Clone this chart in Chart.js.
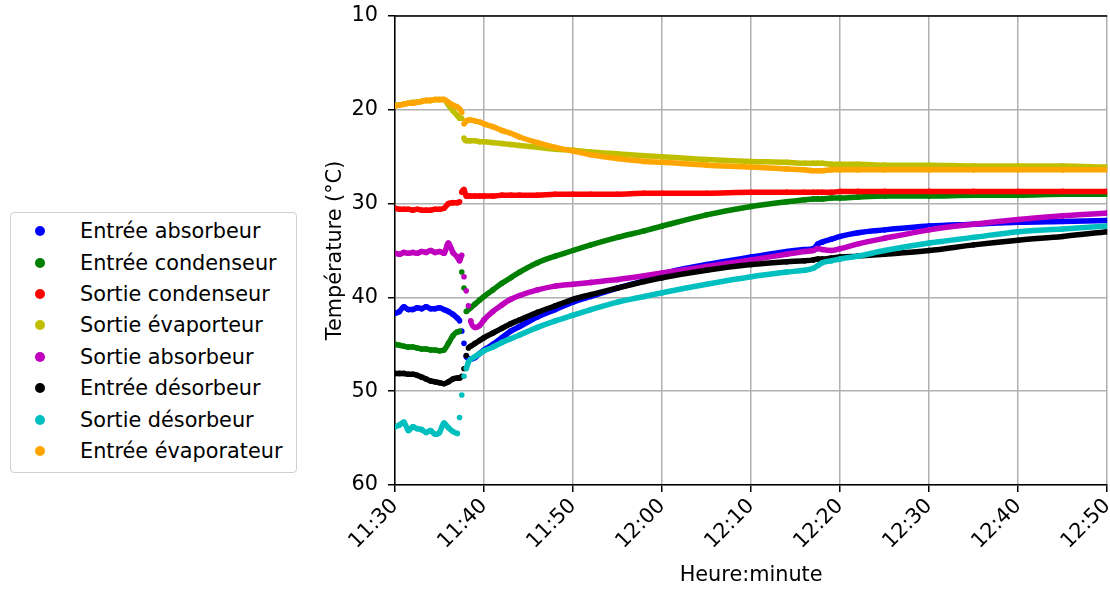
<!DOCTYPE html>
<html>
<head>
<meta charset="utf-8">
<title>Températures</title>
<script src="https://cdn.jsdelivr.net/npm/chart.js@4.4.1/dist/chart.umd.min.js"></script>
<style>
    body { margin: 0; background: #fff; font-family: "DejaVu Sans", sans-serif; }
    #wrap { position: relative; width: 1110px; height: 590px; }
    #legend { position: absolute; left: 10px; top: 212px; width: 287px; height: 261px; border: 1px solid #d0d0d0; border-radius: 4px; box-sizing: border-box; padding-top: 2.5px; background: #fff; }
    .item { display: flex; align-items: center; height: 31.4px; font-size: 20.8px; color: #000; white-space: nowrap; }
    .dot { width: 10px; height: 10px; border-radius: 50%; margin-left: 24px; margin-right: 35px; flex: none; }
</style>
</head>
<body>
<div id="wrap">
    <canvas id="chart" width="1110" height="590"></canvas>
    <div id="legend"></div>
</div>
<script>
    // minutes since 11:30
    const minutes = [0, 0.5, 1, 1.5, 2, 2.5, 3, 3.5, 4, 4.5, 5, 5.5, 6, 6.5, 7, 7.25, 7.5, 7.75, 8, 8.25, 8.5, 9, 9.5, 10,
        11, 12, 13, 14, 16, 18, 20, 22, 25, 28, 30, 35, 40, 44, 46, 47, 47.5, 48, 49, 50, 52, 55, 60, 65, 70, 75, 80];
    const tickLabels = ["11:30", "11:40", "11:50", "12:00", "12:10", "12:20", "12:30", "12:40", "12:50"];

    const entreeAbsorbeur = [41.7, 41.5, 41.0, 41.3, 41.3, 41.1, 41.2, 41.0, 41.2, 41.2, 41.1, 41.3, 41.5, 41.8, 42.2, 42.5, 43.6, 44.9, 46.3, 46.5, 46.6, 46.4, 46.0, 45.6,
        45.0, 44.3, 43.6, 43.1, 42.1, 41.3, 40.5, 39.9, 39.0, 38.2, 37.5, 36.5, 35.7, 35.1, 34.9, 34.8, 34.3, 34.1, 33.8, 33.5, 33.1, 32.8, 32.4, 32.2, 32.0, 31.9, 31.8];
    const entreeCondenseur = [45.0, 45.1, 45.2, 45.3, 45.3, 45.4, 45.5, 45.5, 45.6, 45.6, 45.7, 45.6, 44.9, 44.1, 43.7, 43.6, 37.3, 39.0, 41.5, 41.3, 41.1, 40.7, 40.3, 39.9,
        39.2, 38.5, 37.9, 37.3, 36.3, 35.6, 35.0, 34.4, 33.6, 32.9, 32.4, 31.2, 30.3, 29.8, 29.6, 29.5, 29.5, 29.5, 29.4, 29.4, 29.3, 29.2, 29.2, 29.1, 29.1, 29.0, 29.0];
    const sortieCondenseur = [30.5, 30.6, 30.6, 30.6, 30.7, 30.6, 30.7, 30.7, 30.7, 30.6, 30.6, 30.5, 30.0, 29.9, 29.9, 29.8, 28.8, 28.5, 29.2, 29.2, 29.2, 29.2, 29.2, 29.2,
        29.2, 29.1, 29.1, 29.1, 29.1, 29.0, 29.0, 29.0, 29.0, 28.9, 28.9, 28.9, 28.8, 28.8, 28.8, 28.8, 28.8, 28.8, 28.8, 28.7, 28.7, 28.7, 28.7, 28.7, 28.7, 28.7, 28.7];
    const sortieEvaporteur = [19.5, 19.5, 19.4, 19.3, 19.2, 19.2, 19.1, 19.0, 19.0, 18.9, 18.9, 18.9, 19.5, 20.1, 20.6, 20.9, 20.9, 23.0, 23.3, 23.3, 23.3, 23.3, 23.4, 23.4,
        23.5, 23.6, 23.7, 23.8, 24.0, 24.2, 24.3, 24.5, 24.7, 24.9, 25.0, 25.3, 25.5, 25.6, 25.7, 25.7, 25.7, 25.7, 25.8, 25.8, 25.8, 25.9, 25.9, 26.0, 26.0, 26.0, 26.1];
    const sortieAbsorbeur = [35.3, 35.4, 35.2, 35.3, 35.2, 35.3, 35.1, 35.2, 35.0, 35.2, 35.1, 35.3, 34.2, 35.2, 35.7, 36.1, 35.5, 37.8, 39.3, 40.9, 42.5, 43.2, 43.0, 42.4,
        41.5, 40.8, 40.2, 39.8, 39.2, 38.8, 38.6, 38.4, 38.1, 37.7, 37.4, 36.7, 36.0, 35.4, 35.1, 35.0, 34.8, 34.9, 35.0, 34.8, 34.3, 33.7, 32.8, 32.2, 31.7, 31.3, 31.0];
    const entreeDesorbeur = [48.1, 48.1, 48.1, 48.2, 48.2, 48.3, 48.5, 48.7, 48.9, 49.0, 49.1, 49.2, 49.0, 48.7, 48.6, 48.6, 48.4, 47.6, 46.2, 45.4, 45.2, 44.9, 44.6, 44.3,
        43.8, 43.3, 42.8, 42.4, 41.6, 40.9, 40.2, 39.7, 39.0, 38.3, 37.9, 37.1, 36.5, 36.2, 36.1, 36.0, 35.9, 35.9, 35.8, 35.7, 35.6, 35.4, 35.0, 34.4, 33.9, 33.5, 33.0];
    const sortieDesorbeur = [53.8, 53.6, 53.3, 54.2, 53.8, 54.0, 54.1, 54.4, 54.2, 54.6, 54.4, 53.4, 53.9, 54.3, 54.5, 52.8, 50.4, 48.4, 47.6, 46.9, 46.6, 46.3, 46.0, 45.7,
        45.3, 44.8, 44.4, 44.0, 43.2, 42.5, 41.9, 41.3, 40.5, 39.9, 39.5, 38.6, 37.8, 37.3, 37.1, 36.9, 36.6, 36.3, 36.1, 35.9, 35.6, 35.0, 34.2, 33.6, 33.0, 32.7, 32.4];
    const entreeEvaporateur = [19.6, 19.5, 19.4, 19.3, 19.3, 19.2, 19.1, 19.0, 19.0, 18.9, 18.9, 18.9, 19.2, 19.5, 19.7, 19.9, 20.3, 21.5, 21.2, 21.1, 21.1, 21.2, 21.3, 21.5,
        21.8, 22.2, 22.5, 22.9, 23.5, 24.0, 24.4, 24.8, 25.2, 25.5, 25.6, 25.9, 26.1, 26.3, 26.4, 26.5, 26.5, 26.5, 26.4, 26.4, 26.4, 26.4, 26.4, 26.4, 26.4, 26.4, 26.4];

    const seriesNames = ["Entrée absorbeur", "Entrée condenseur", "Sortie condenseur", "Sortie évaporteur",
        "Sortie absorbeur", "Entrée désorbeur", "Sortie désorbeur", "Entrée évaporateur"];
    const seriesValues = [entreeAbsorbeur, entreeCondenseur, sortieCondenseur, sortieEvaporteur,
        sortieAbsorbeur, entreeDesorbeur, sortieDesorbeur, entreeEvaporateur];
    const seriesColors = ["#0000ff", "#008000", "#ff0000", "#bfbf00", "#bf00bf", "#000000", "#00bfbf", "#ffa500"];

    // steep jumps between samples stay as separate dots, like the raw measurements
    const hideJumps = (ctx) => {
        const slope = Math.abs((ctx.p1.parsed.y - ctx.p0.parsed.y) / (ctx.p1.parsed.x - ctx.p0.parsed.x));
        return slope > 3 ? "rgba(0,0,0,0)" : undefined;
    };

    const datasets = seriesNames.map((name, i) => ({
        label: name,
        data: minutes.map((t, j) => ({ x: t, y: seriesValues[i][j] })),
        borderColor: seriesColors[i],
        backgroundColor: seriesColors[i],
        borderWidth: 5.5,
        borderJoinStyle: "round",
        cubicInterpolationMode: "monotone",
        pointRadius: 2.8,
        pointBorderWidth: 0,
        pointHoverRadius: 2.8,
        order: seriesNames.length - i,
        segment: { borderColor: hideJumps },
    }));

    const frameTop = {
        id: "frameTop",
        afterDraw(chart) {
            const { ctx, chartArea } = chart;
            ctx.save();
            ctx.strokeStyle = "#000";
            ctx.lineWidth = 1.5;
            ctx.beginPath();
            ctx.moveTo(chartArea.left, chartArea.top);
            ctx.lineTo(chartArea.right, chartArea.top);
            ctx.stroke();
            ctx.restore();
        }
    };

    const font = { family: "DejaVu Sans", size: 20.8 };

    new Chart(document.getElementById("chart"), {
        type: "line",
        data: { datasets: datasets },
        options: {
            responsive: false,
            animation: false,
            layout: { padding: { left: 315, top: 16, right: 0, bottom: 0 } },
            plugins: { legend: { display: false }, tooltip: { enabled: false } },
            scales: {
                x: {
                    type: "linear",
                    min: 0,
                    max: 80,
                    ticks: {
                        stepSize: 10,
                        minRotation: 45,
                        maxRotation: 45,
                        padding: 2,
                        color: "#000",
                        font: font,
                        callback: (v) => tickLabels[Math.round(v / 10)],
                    },
                    grid: { color: "#b0b0b0", lineWidth: 1.5, tickLength: 7, tickColor: "#000", tickWidth: 1.5 },
                    border: { color: "#000", width: 1.5 },
                    title: { display: true, text: "Heure:minute", color: "#000", font: font, padding: { top: 0, bottom: 2 } },
                    afterFit: (s) => { s.height = 105; s.paddingLeft = 0; s.paddingRight = 0; },
                },
                y: {
                    reverse: true,
                    min: 10,
                    max: 60,
                    ticks: { stepSize: 10, padding: 10, color: "#000", font: font },
                    grid: { color: "#b0b0b0", lineWidth: 1.5, tickLength: 7, tickColor: "#000", tickWidth: 1.5 },
                    border: { color: "#000", width: 1.5 },
                    title: { display: true, text: "Température (°C)", color: "#000", font: font, padding: { top: 8, bottom: 0 } },
                    afterFit: (s) => { s.width = 80; s.paddingTop = 0; s.paddingBottom = 0; },
                },
            },
        },
        plugins: [frameTop],
    });

    const legend = document.getElementById("legend");
    seriesNames.forEach((name, i) => {
        const item = document.createElement("div");
        item.className = "item";
        const dot = document.createElement("span");
        dot.className = "dot";
        dot.style.backgroundColor = seriesColors[i];
        item.appendChild(dot);
        item.appendChild(document.createTextNode(name));
        legend.appendChild(item);
    });
</script>
</body>
</html>
